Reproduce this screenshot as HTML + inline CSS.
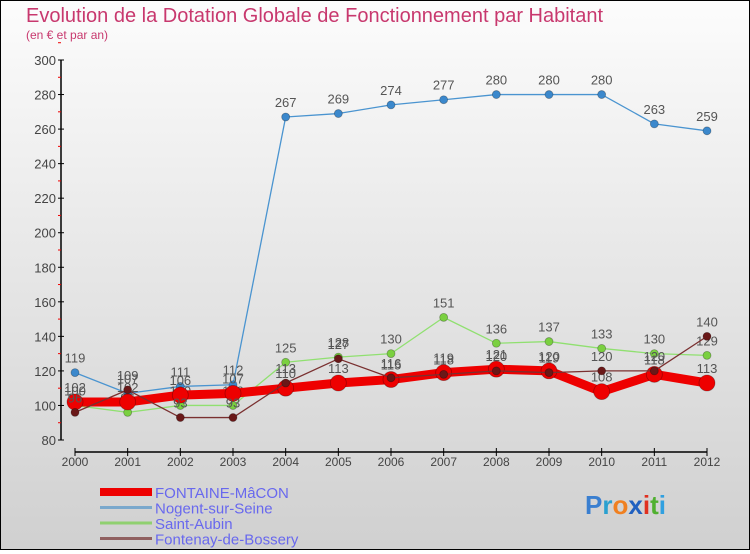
<!DOCTYPE html>
<html><head><meta charset="utf-8">
<style>
body{margin:0;width:750px;height:550px;overflow:hidden;font-family:"Liberation Sans",sans-serif}
#wrap{position:relative;width:748px;height:548px;border:1px solid #000;background:linear-gradient(#fcfcfc,#d0d0d0)}
</style></head>
<body>
<div id="wrap">
<svg id="chart" width="748" height="548" viewBox="1 1 748 548" xmlns="http://www.w3.org/2000/svg">
<text x="26" y="22" font-size="20" fill="#c8386e">Evolution de la Dotation Globale de Fonctionnement par Habitant</text>
<text x="26" y="39" font-size="12" fill="#c8386e">(en € et par an)</text>
<g id="axes"></g>
<g id="series"></g>
<g id="legend"></g>
<text x="585" y="514" font-size="26" font-weight="bold"><tspan fill="#3a7fd0">P</tspan><tspan fill="#2aa0d0">r</tspan><tspan fill="#f08020">o</tspan><tspan fill="#2060c0">x</tspan><tspan fill="#e03020">i</tspan><tspan fill="#50b030">t</tspan><tspan fill="#30a0e0">i</tspan></text>
</svg>
</div>
<script>
const years=[2000,2001,2002,2003,2004,2005,2006,2007,2008,2009,2010,2011,2012];
const yTicks=[80,100,120,140,160,180,200,220,240,260,280,300];
const fontaine=[102,102,106,107,110,113,115,119,121,120,108,118,113];
const nogent=[119,107,111,112,267,269,274,277,280,280,280,263,259];
const saintAubin=[100,96,100,100,125,128,130,151,136,137,133,130,129];
const fontenay=[96,109,93,93,113,127,116,118,120,119,120,120,140];
const seriesNames=["FONTAINE-MâCON","Nogent-sur-Seine","Saint-Aubin","Fontenay-de-Bossery"];

const NS="http://www.w3.org/2000/svg";
function xPos(i){return 75+i*(707-75)/(years.length-1);}
function yPos(v){return 440-(v-80)*(380/220);}
function mk(tag,attrs,parent){const e=document.createElementNS(NS,tag);for(const k in attrs)e.setAttribute(k,attrs[k]);parent.appendChild(e);return e;}
const axes=document.getElementById('axes');
let a=mk('line',{x1:61,y1:yPos(300),x2:61,y2:yPos(80),stroke:'#000','stroke-width':1.5},axes);


yTicks.forEach(v=>{
  const t=mk('line',{x1:58,x2:64,y1:yPos(v),y2:yPos(v),stroke:'#000'},axes);
  
  
  const m=mk('line',{x1:58,x2:61,y1:yPos(v+10),y2:yPos(v+10),stroke:'#e00'},axes);
  
  
  const l=mk('text',{x:56,y:yPos(v)+5,'text-anchor':'end','font-size':13,fill:'#444'},axes);
  l.textContent=v;
  
  
});
const xa=mk('line',{x1:75,x2:707,y1:452,y2:452,stroke:'#000','stroke-width':1.5},axes);


years.forEach((y,i)=>{
  const t=mk('line',{x1:xPos(i),x2:xPos(i),y1:448,y2:456,stroke:'#000'},axes);
  
  
  const l=mk('text',{x:xPos(i),y:466,'text-anchor':'middle','font-size':12,fill:'#444'},axes);
  l.textContent=y;
  
  
});
const sg=document.getElementById('series');
const defs=[
 {d:nogent,c:'#4a94d0',w:1.3,r:4,dot:'#3b88cc',name:'nogent-sur-seine-series'},
 {d:saintAubin,c:'#90e070',w:1.3,r:4,dot:'#7ad040',name:'saint-aubin-series'},
 {d:fontaine,c:'#ee0000',w:9,r:8,dot:'#ee0000',name:'fontaine-macon-series'},
 {d:fontenay,c:'#7a3030',w:1.3,r:4,dot:'#6a1818',name:'fontenay-de-bossery-series'}
];
defs.forEach(s=>{
  const g=mk('g',{},sg);
  
  
  const p=mk('polyline',{points:s.d.map((v,i)=>xPos(i)+','+yPos(v)).join(' '),fill:'none',stroke:s.c,'stroke-width':s.w,'stroke-linejoin':'round'},g);
  
  
  s.d.forEach((v,i)=>{
    const c=mk('circle',{cx:xPos(i),cy:yPos(v),r:s.r,fill:s.dot,stroke:'rgba(0,0,0,0.3)','stroke-width':0.8},g);
    
    
    const l=mk('text',{x:xPos(i),y:yPos(v)-10,'text-anchor':'middle','font-size':13,fill:'#555'},g);
    l.textContent=v;
    
    
  });
});
const lg=document.getElementById('legend');
const lc=['#ee0000','#7aa8cc','#90d070','#906060'];
const lw=[8,3,3,3];
seriesNames.forEach((n,i)=>{
  const y=492+i*15.5;
  const g=mk('g',{},lg);
  
  
  const ln=mk('line',{x1:100,x2:152,y1:y,y2:y,stroke:lc[i],'stroke-width':lw[i]},g);
  
  
  const t=mk('text',{x:155,y:y+6,'font-size':15,fill:'#6868ee'},g);
  t.textContent=n;
  
  
});
</script>
</body></html>
